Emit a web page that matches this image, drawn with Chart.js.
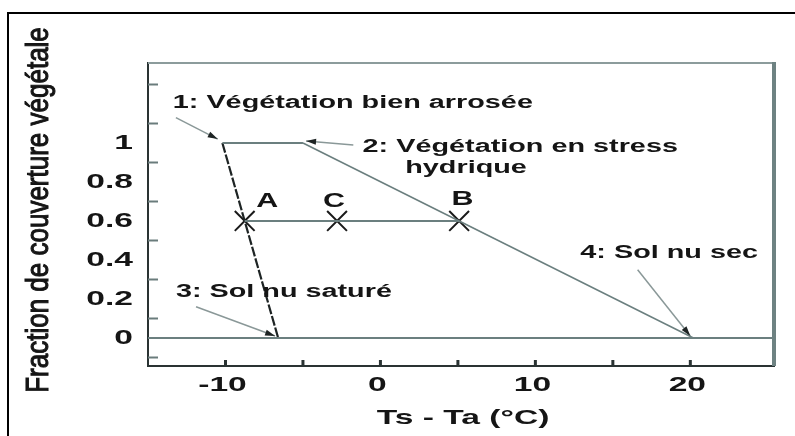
<!DOCTYPE html>
<html>
<head>
<meta charset="utf-8">
<script src="https://cdn.jsdelivr.net/npm/chart.js@4/dist/chart.umd.min.js"></script>
<style>
    body { margin: 0; background: #ffffff; }
    canvas { display: block; }
</style>
</head>
<body>
<canvas id="trapeze_canvas" width="795" height="436"></canvas>
<script>
/*--------------------------------------------------------------------------------
----- TRAPEZE Ts - Ta / FRACTION DE COUVERTURE VEGETALE
--------------------------------------------------------------------------------*/

// Edges of the trapeze (Ts - Ta in °C, fraction of vegetation cover)
var wet_edge_ts = [-10.2, -6.6];
var wet_edge_fc = [1, 0];
var full_cover_ts = [-10.2, -5];
var full_cover_fc = [1, 1];
var dry_edge_ts = [-5, 20.2];
var dry_edge_fc = [1, 0];
var bare_soil_ts = [-15, 25.4];
var bare_soil_fc = [0, 0];

// Points A, C, B on the 0.6 cover line
var point_names = ['A', 'C', 'B'];
var point_ts = [-8.76, -2.8, 5.08];
var point_fc = [0.6, 0.6, 0.6];
var point_name_ts = [-7.3, -3.0, 5.3];
var point_name_fc = [0.70, 0.70, 0.71];

// Corner notes and their arrows
var note_texts = ['1: Végétation bien arrosée', '2: Végétation en stress', 'hydrique', '3: Sol nu saturé', '4: Sol nu sec'];
var note_ts = [-13.4, -1.15, 1.6, -13.2, 12.9];
var note_fc = [1.205, 0.98, 0.87, 0.236, 0.436];
var arrow_from_ts = [-13.2, -1.75, -11.9, 16.6];
var arrow_from_fc = [1.13, 0.99, 0.16, 0.35];
var arrow_to_ts = [-10.5, -4.8, -6.8, 20.0];
var arrow_to_fc = [1.02, 1.01, 0.01, 0.01];

// Axes
var x_tick_marks = [-10, -5, 0, 5, 10, 15, 20];
var x_tick_labels = [-10, 0, 10, 20];
var y_tick_marks = [-0.1, 0.1, 0.3, 0.5, 0.7, 0.9, 1.1, 1.3];
var y_tick_labels = [0, 0.2, 0.4, 0.6, 0.8, 1];
var x_title = 'Ts - Ta (°C)';
var y_title = 'Fraction de couverture végétale';

function to_points(xs, ys) {
    return xs.map(function (x, i) { return { x: x, y: ys[i] }; });
}

// Wide bold lettering used on the figure
function wide_text(ctx, str, x, y, size, align, stretch) {
    ctx.save();
    ctx.translate(x, y);
    ctx.scale(stretch, 1);
    ctx.font = 'bold ' + size + 'px "Liberation Sans", Arial, sans-serif';
    ctx.textAlign = align;
    ctx.textBaseline = 'middle';
    ctx.fillStyle = '#151515';
    ctx.fillText(str, 0, 0);
    ctx.restore();
}

function arrow(ctx, x0, y0, x1, y1) {
    ctx.save();
    ctx.strokeStyle = '#8a9898';
    ctx.lineWidth = 1.5;
    ctx.beginPath();
    ctx.moveTo(x0, y0);
    ctx.lineTo(x1, y1);
    ctx.stroke();
    var a = Math.atan2(y1 - y0, x1 - x0);
    ctx.translate(x1, y1);
    ctx.rotate(a);
    ctx.fillStyle = '#1e2424';
    ctx.beginPath();
    ctx.moveTo(0, 0);
    ctx.lineTo(-10, -3);
    ctx.lineTo(-10, 3);
    ctx.closePath();
    ctx.fill();
    ctx.restore();
}

var figure_plugin = {
    id: 'figure_plugin',
    afterDraw: function (chart) {
        var ctx = chart.ctx;
        var xs = chart.scales.x;
        var ys = chart.scales.y;
        var area = chart.chartArea;

        // outer frame (top and left only)
        ctx.save();
        ctx.strokeStyle = '#000000';
        ctx.lineWidth = 2;
        ctx.beginPath();
        ctx.moveTo(8, 436);
        ctx.lineTo(8, 13);
        ctx.lineTo(795, 13);
        ctx.stroke();

        // top and right side of the plot box
        ctx.strokeStyle = '#8c9c9c';
        ctx.lineWidth = 2;
        ctx.beginPath();
        ctx.moveTo(area.left, area.top);
        ctx.lineTo(area.right, area.top);
        ctx.stroke();
        ctx.strokeStyle = '#6e8282';
        ctx.lineWidth = 4;
        ctx.beginPath();
        ctx.moveTo(area.right, area.top - 1);
        ctx.lineTo(area.right, area.bottom);
        ctx.stroke();

        // inward tick marks
        ctx.strokeStyle = '#6a7c7c';
        ctx.lineWidth = 2;
        y_tick_marks.forEach(function (v) {
            var py = Math.round(ys.getPixelForValue(v)) + 0.5;
            ctx.beginPath();
            ctx.moveTo(area.left, py);
            ctx.lineTo(area.left + 10, py);
            ctx.stroke();
        });
        ctx.strokeStyle = '#2a3333';
        ctx.lineWidth = 3;
        x_tick_marks.forEach(function (v) {
            var px = xs.getPixelForValue(v);
            ctx.beginPath();
            ctx.moveTo(px, area.bottom);
            ctx.lineTo(px, area.bottom - 6);
            ctx.stroke();
        });
        ctx.restore();

        // tick labels
        x_tick_labels.forEach(function (v) {
            wide_text(ctx, String(v), xs.getPixelForValue(v) - 3, area.bottom + 19, 21, 'center', 1.6);
        });
        y_tick_labels.forEach(function (v) {
            wide_text(ctx, String(v), area.left - 15, ys.getPixelForValue(v), 21, 'right', 1.6);
        });

        // axis titles
        wide_text(ctx, x_title, (area.left + area.right) / 2 + 2, area.bottom + 52, 21, 'center', 1.6);
        ctx.save();
        ctx.translate(48, 210);
        ctx.rotate(-Math.PI / 2);
        ctx.scale(1, 1.2);
        ctx.font = '26px "Liberation Sans", Arial, sans-serif';
        ctx.textAlign = 'center';
        ctx.textBaseline = 'alphabetic';
        ctx.fillStyle = '#151515';
        ctx.strokeStyle = '#151515';
        ctx.lineWidth = 0.9;
        ctx.fillText(y_title, 0, 0);
        ctx.strokeText(y_title, 0, 0);
        ctx.restore();

        // notes and arrows
        note_texts.forEach(function (t, i) {
            wide_text(ctx, t, xs.getPixelForValue(note_ts[i]), ys.getPixelForValue(note_fc[i]), 18, 'left', 1.6);
        });
        arrow_from_ts.forEach(function (v, i) {
            arrow(ctx,
                xs.getPixelForValue(v), ys.getPixelForValue(arrow_from_fc[i]),
                xs.getPixelForValue(arrow_to_ts[i]), ys.getPixelForValue(arrow_to_fc[i]));
        });

        // point names
        point_names.forEach(function (n, i) {
            wide_text(ctx, n, xs.getPixelForValue(point_name_ts[i]), ys.getPixelForValue(point_name_fc[i]), 21, 'center', 1.45);
        });
    }
};

function initialize_trapeze_chart() {
    var gray = '#6b7f7f';
    var datapoints = {
        datasets: [{
            label: 'Sol nu',
            data: to_points(bare_soil_ts, bare_soil_fc),
            borderColor: gray,
            borderWidth: 2,
            pointRadius: 0
        }, {
            label: 'Couverture totale',
            data: to_points(full_cover_ts, full_cover_fc),
            borderColor: gray,
            borderWidth: 2,
            pointRadius: 0
        }, {
            label: 'Bord sec',
            data: to_points(dry_edge_ts, dry_edge_fc),
            borderColor: gray,
            borderWidth: 1.5,
            pointRadius: 0
        }, {
            label: 'A - B',
            data: to_points([point_ts[0], point_ts[2]], [point_fc[0], point_fc[2]]),
            borderColor: gray,
            borderWidth: 2,
            pointRadius: 0
        }, {
            label: 'Bord humide',
            data: to_points(wet_edge_ts, wet_edge_fc),
            borderColor: '#1e2424',
            borderWidth: 2.2,
            borderDash: [10, 2],
            pointRadius: 0
        }, {
            label: 'Points',
            data: to_points(point_ts, point_fc),
            showLine: false,
            pointStyle: 'crossRot',
            pointRadius: 14,
            borderColor: '#1a1a1a',
            borderWidth: 2
        }]
    };

    var context = document.getElementById('trapeze_canvas').getContext('2d');

    var trapeze_chart = new Chart(context, {
        type: 'scatter',
        data: datapoints,
        options: {
            responsive: false,
            animation: false,
            showLine: true,
            layout: { padding: { left: 148, right: 21, top: 63, bottom: 70 } },
            plugins: {
                legend: { display: false },
                tooltip: { enabled: false }
            },
            scales: {
                x: {
                    type: 'linear',
                    min: -15,
                    max: 25.4,
                    grid: { display: false, drawTicks: false },
                    ticks: { display: false },
                    border: { display: true, color: '#2a3333', width: 2 }
                },
                y: {
                    type: 'linear',
                    min: -0.1436,
                    max: 1.41,
                    grid: { display: false, drawTicks: false },
                    ticks: { display: false },
                    border: { display: true, color: '#2a3333', width: 2 }
                }
            }
        },
        plugins: [figure_plugin]
    });
}

initialize_trapeze_chart();
</script>
</body>
</html>
